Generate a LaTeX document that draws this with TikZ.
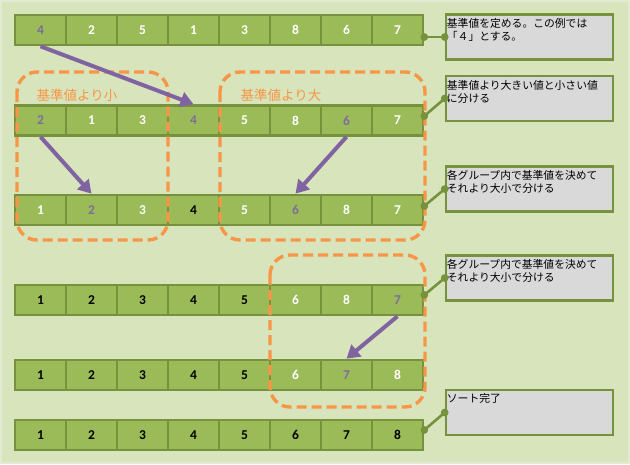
\documentclass[tikz,border=0pt]{standalone}
\usepackage{fontspec}
\setmainfont{Carlito}
\newfontfamily\jp{Noto Sans CJK JP}
\usetikzlibrary{arrows.meta,calc}
\definecolor{bg}{HTML}{D8E4BC}
\definecolor{bgedge}{HTML}{E2EAD2}
\definecolor{cellf}{HTML}{9BBB59}
\definecolor{celld}{HTML}{76923C}
\definecolor{boxf}{HTML}{D9D9D9}
\definecolor{org}{HTML}{F79646}
\definecolor{purp}{HTML}{8064A2}
\definecolor{numg}{HTML}{7C6E98}
\begin{document}
\begin{tikzpicture}[x=1pt,y=-1pt,
  cell/.style={draw=celld, fill=cellf, line width=2.6pt, minimum width=51pt,
    minimum height=30pt, inner sep=0pt, font=\bfseries\fontsize{13.5}{15}\selectfont},
  grp/.style={draw=org, line width=3.4pt, dash pattern=on 10pt off 5pt, rounded corners=20pt},
  grplab/.style={text=org, font=\jp\fontsize{13.5}{15}\selectfont, inner sep=0pt},
  parrow/.style={draw=purp, line width=4pt, -{Triangle[length=13pt,width=15pt]}},
  callout/.style={draw=celld, fill=boxf, line width=2.6pt, minimum width=167pt,
    minimum height=45pt, inner sep=0pt},
  ctext/.style={anchor=north west, inner sep=1pt, align=left,
    font=\jp\fontsize{10.8}{13}\selectfont, text=black},
  conn/.style={draw=celld, line width=2.6pt, {Circle[length=7.5pt]}-{Circle[length=7.5pt]},
    shorten <=-3.75pt, shorten >=-3.75pt}]
\useasboundingbox (0,0) rectangle (630,464);
\fill[bg, draw=bgedge, line width=2pt] (1,1) rectangle (629,463);

% rows
\foreach \v/\c [count=\i] in {4/numg,2/white,5/white,1/white,3/white,8/white,6/white,7/white}
  \node[cell,text=\c] (r1c\i) at ({51*\i-10.5},30) {\v};
\foreach \v/\c [count=\i] in {2/numg,1/white,3/white,4/numg,5/white,8/white,6/numg,7/white}
  \node[cell,text=\c] (r2c\i) at ({51*\i-10.5},120.5) {\v};
\foreach \v/\c [count=\i] in {1/white,2/numg,3/white,4/black,5/white,6/numg,8/white,7/white}
  \node[cell,text=\c] (r3c\i) at ({51*\i-10.5},210) {\v};
\foreach \v/\c [count=\i] in {1/black,2/black,3/black,4/black,5/black,6/white,8/white,7/numg}
  \node[cell,text=\c] (r4c\i) at ({51*\i-10.5},300) {\v};
\foreach \v/\c [count=\i] in {1/black,2/black,3/black,4/black,5/black,6/white,7/numg,8/white}
  \node[cell,text=\c] (r5c\i) at ({51*\i-10.5},375) {\v};
\foreach \v/\c [count=\i] in {1/black,2/black,3/black,4/black,5/black,6/black,7/black,8/black}
  \node[cell,text=\c] (r6c\i) at ({51*\i-10.5},435) {\v};

% groups
\draw[grp] (17,72) rectangle (168,240);
\draw[grp] (220,72) rectangle (425,240);
\draw[grp] (270,255) rectangle (425,407);
\node[grplab] (lsmall) at (77,95) {基準値より小};
\node[grplab] (lbig) at (281,95) {基準値より大};

% arrows
\draw[parrow] (r1c1.south) -- (r2c4.north);
\draw[parrow] (r2c1.south) -- (r3c2.north);
\draw[parrow] (r2c7.south) -- (r3c6.north);
\draw[parrow] (r4c8.south) -- (r5c7.north);

% callouts
\node[callout] (b1) at (529.5,37) {};
\node[callout] (b2) at (529.5,98.5) {};
\node[callout] (b3) at (529.5,189) {};
\node[callout] (b4) at (529.5,278) {};
\node[callout] (b5) at (529.5,412.5) {};
\node[ctext] (t1) at ([xshift=1pt,yshift=-4pt]b1.north west) {基準値を定める。この例では\\「４」とする。};
\node[ctext] (t2) at ([xshift=1pt,yshift=-4pt]b2.north west) {基準値より大きい値と小さい値\\に分ける};
\node[ctext] (t3) at ([xshift=1pt,yshift=-4pt]b3.north west) {各グループ内で基準値を決めて\\それより大小で分ける};
\node[ctext] (t4) at ([xshift=1pt,yshift=-4pt]b4.north west) {各グループ内で基準値を決めて\\それより大小で分ける};
\node[ctext] (t5) at ([xshift=1pt,yshift=-4pt]b5.north west) {ソート完了};

% connectors
\draw[conn] ([yshift=-7pt]r1c8.east) -- (b1.west);
\draw[conn] ([yshift=4.5pt]r2c8.east) -- (b2.west);
\draw[conn] ([yshift=4pt]r3c8.east) -- (b3.west);
\draw[conn] ([yshift=5pt]r4c8.east) -- (b4.west);
\draw[conn] ([yshift=5pt]r6c8.east) -- (b5.west);
\end{tikzpicture}
\end{document}
